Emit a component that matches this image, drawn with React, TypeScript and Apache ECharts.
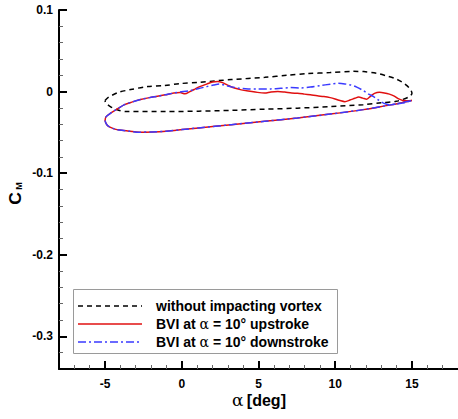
import React, { useEffect, useRef } from "react";
import * as echarts from "echarts";

// ---------- data ----------
// without impacting vortex: upper branch (left -> right)
const noVortexUpperAlpha = [-5.0, -4.81, -4.16, -3.33, -2.23, -1.14, -0.11, 1.11, 3.23, 5.42, 6.9, 8.19, 9.66, 11.2, 11.86, 12.7, 13.3, 13.96, 14.4, 14.8, 15.0];
const noVortexUpperCm = [-0.011, -0.0074, -0.0012, 0.0025, 0.0061, 0.0074, 0.0098, 0.0114, 0.0147, 0.0175, 0.02, 0.022, 0.0233, 0.0248, 0.0245, 0.0225, 0.0195, 0.0155, 0.011, 0.005, -0.002];
// without impacting vortex: lower branch (right -> left)
const noVortexLowerAlpha = [14.8, 13.97, 13.0, 11.83, 9.66, 7.54, 5.42, 3.23, 1.11, -1.03, -3.6, -4.25, -4.68, -4.95, -5.0];
const noVortexLowerCm = [-0.0065, -0.0119, -0.0138, -0.016, -0.0184, -0.0203, -0.0215, -0.023, -0.024, -0.0245, -0.0245, -0.022, -0.018, -0.014, -0.011];

// BVI at alpha = 10 upstroke
const upstrokeLowerAlpha = [-5.0, -4.87, -4.68, -4.36, -4.04, -3.39, -2.75, -1.91, -1.03, 0.02, 1.11, 3.23, 5.4, 7.54, 9.66, 11.83, 13.33, 13.97, 14.49, 15.0];
const upstrokeLowerCm = [-0.036, -0.041, -0.0436, -0.046, -0.0472, -0.0486, -0.0497, -0.0494, -0.0485, -0.0466, -0.0445, -0.0405, -0.0364, -0.0323, -0.0276, -0.0221, -0.0172, -0.0151, -0.0129, -0.011];
const upstrokeUpperAlpha = [-5.0, -4.94, -4.61, -4.17, -3.73, -3.26, -2.69, -2.11, -1.59, -1.08, -0.52, -0.11, 0.21, 0.53, 0.86, 1.17, 1.62, 2.01, 2.33, 2.65, 2.98, 3.43, 3.88, 4.33, 4.78, 5.4, 5.81, 6.26, 6.71, 7.16, 7.54, 7.99, 8.38, 8.83, 9.26, 9.67, 9.99, 10.31, 10.63, 10.96, 11.28, 11.53, 11.79, 12.05, 12.31, 12.56, 12.88, 13.2, 13.53, 13.85, 14.1, 14.4, 14.68, 15.0];
const upstrokeUpperCm = [-0.036, -0.031, -0.0261, -0.0209, -0.016, -0.0129, -0.0098, -0.0074, -0.0058, -0.004, -0.0018, -0.0012, -0.0027, 0.0, 0.0031, 0.0061, 0.0092, 0.0117, 0.0125, 0.011, 0.008, 0.0043, 0.0021, 0.0006, -0.0006, -0.0018, -0.0004, 0.0002, -0.0006, -0.0018, -0.0021, -0.0031, -0.004, -0.0052, -0.0061, -0.0074, -0.009, -0.011, -0.0123, -0.0104, -0.0082, -0.0067, -0.008, -0.0094, -0.0055, -0.0022, -0.0009, -0.0016, -0.0031, -0.0055, -0.0086, -0.0108, -0.0113, -0.011];

// BVI at alpha = 10 downstroke
const downstrokeLowerAlpha = [-5.0, -4.87, -4.68, -4.36, -4.04, -3.39, -2.75, -1.91, -1.03, 0.02, 1.11, 3.23, 5.4, 7.54, 9.66, 11.83, 13.33, 13.97, 14.49, 15.0];
const downstrokeLowerCm = [-0.036, -0.041, -0.0436, -0.046, -0.0472, -0.0486, -0.0497, -0.0494, -0.0485, -0.0466, -0.0445, -0.0405, -0.0364, -0.0323, -0.0276, -0.0221, -0.0172, -0.0151, -0.0129, -0.011];
const downstrokeUpperAlpha = [-5.0, -4.94, -4.61, -4.17, -3.73, -3.26, -2.69, -2.11, -1.59, -1.08, -0.52, -0.11, 0.53, 1.11, 1.62, 2.08, 2.46, 2.79, 3.23, 3.68, 4.33, 4.97, 5.81, 6.45, 7.1, 7.74, 8.38, 9.02, 9.67, 10.18, 10.63, 11.02, 11.4, 11.83, 12.18, 12.5, 12.82, 13.14, 13.53, 13.97, 14.37, 14.68, 15.0];
const downstrokeUpperCm = [-0.036, -0.031, -0.0261, -0.0209, -0.016, -0.0129, -0.0098, -0.0074, -0.0058, -0.004, -0.0018, -0.0006, 0.0012, 0.0037, 0.0061, 0.008, 0.0092, 0.008, 0.0058, 0.0043, 0.0033, 0.0031, 0.0033, 0.004, 0.0049, 0.0045, 0.0055, 0.0074, 0.009, 0.0101, 0.0094, 0.008, 0.0055, 0.0012, -0.0031, -0.0061, -0.0104, -0.0141, -0.016, -0.0153, -0.0141, -0.0126, -0.011];

// axis ticks
const xMajorTicks = [-5, 0, 5, 10, 15];
const xMajorLabels = ["-5", "0", "5", "10", "15"];
const xMinorTicks = [-7, -6, -4, -3, -2, -1, 1, 2, 3, 4, 6, 7, 8, 9, 11, 12, 13, 14, 16, 17];
const yMajorTicks = [-0.3, -0.2, -0.1, 0, 0.1];
const yMajorLabels = ["-0.3", "-0.2", "-0.1", "0", "0.1"];
const yMinorTicks = [-0.32, -0.28, -0.26, -0.24, -0.22, -0.18, -0.16, -0.14, -0.12, -0.08, -0.06, -0.04, -0.02, 0.02, 0.04, 0.06, 0.08];

const legendNames = ["without impacting vortex", "BVI at α = 10° upstroke", "BVI at α = 10° downstroke"];

function zip(a: number[], b: number[]) {
  const n = Math.min(a.length, b.length);
  const out: number[][] = [];
  for (let i = 0; i < n; i++) out.push([a[i], b[i]]);
  return out;
}
function rev(a: number[]) {
  return a.slice().reverse();
}

const FONT = "'Liberation Sans', Arial, Helvetica, sans-serif";
const SYM = "'DejaVu Serif', 'Liberation Serif', serif";

export default function App() {
  const ref = useRef<HTMLDivElement>(null);
  useEffect(() => {
    document.body.style.margin = "0";
    if (!ref.current) return;
    const chart = echarts.init(ref.current, null, { renderer: "svg" });

    const blackData = [...zip(noVortexUpperAlpha, noVortexUpperCm), ...zip(noVortexLowerAlpha, noVortexLowerCm)];
    const redData = [...zip(upstrokeLowerAlpha, upstrokeLowerCm), ...zip(rev(upstrokeUpperAlpha), rev(upstrokeUpperCm))];
    const blueData = [...zip(downstrokeLowerAlpha, downstrokeLowerCm), ...zip(rev(downstrokeUpperAlpha), rev(downstrokeUpperCm))];

    const labelStyle = { color: "#000", fontWeight: "bold" as const, fontSize: 12, fontFamily: FONT };

    const legendY = [306, 324, 342];
    const legendColors = ["#000000", "#e01010", "#3a3aff"];
    const legendDash: any[] = [[5, 4], "solid", [8, 3, 2, 3]];

    const legendGraphics: any[] = [
      { type: "rect", shape: { x: 73.5, y: 289.5, width: 264, height: 64 }, style: { fill: "#fff", stroke: "#9a9a9a", lineWidth: 1 } },
    ];
    legendNames.forEach((name, i) => {
      legendGraphics.push({
        type: "line",
        shape: { x1: 78, y1: legendY[i], x2: 142, y2: legendY[i] },
        style: { stroke: legendColors[i], lineWidth: 1.5, lineDash: legendDash[i] === "solid" ? null : legendDash[i] },
      });
      const parts = name.split("α");
      const text = parts.length > 1 ? `{b|${parts[0]}}{a|α}{b|${parts[1]}}` : `{b|${name}}`;
      legendGraphics.push({
        type: "text",
        x: 156,
        y: legendY[i],
        style: {
          text,
          align: "left",
          verticalAlign: "middle",
          rich: {
            b: { fontFamily: FONT, fontWeight: "bold", fontSize: 14, fill: "#000" },
            a: { fontFamily: SYM, fontWeight: "normal", fontSize: 14, fill: "#000" },
          },
        },
      });
    });

    const axisLineMain = { onZero: false, lineStyle: { color: "#000", width: 2 } };

    chart.setOption({
      animation: false,
      backgroundColor: "#fff",
      grid: { left: 59, top: 10, width: 404.3, height: 359, containLabel: false },
      xAxis: [
        {
          type: "value",
          min: -8,
          max: 18,
          position: "bottom",
          axisLine: axisLineMain,
          axisTick: { inside: true, length: 8, lineStyle: { color: "#000", width: 2 }, customValues: xMajorTicks },
          axisLabel: { ...labelStyle, margin: 9, customValues: xMajorTicks, formatter: (v: number) => xMajorLabels[xMajorTicks.indexOf(v)] ?? "" },
          splitLine: { show: false },
        },
        {
          type: "value",
          min: -8,
          max: 18,
          position: "bottom",
          axisLine: { show: false, onZero: false },
          axisTick: { inside: true, length: 4, lineStyle: { color: "#666", width: 1 }, customValues: xMinorTicks },
          axisLabel: { show: false },
          splitLine: { show: false },
        },
      ],
      yAxis: [
        {
          type: "value",
          min: -0.34,
          max: 0.1,
          position: "left",
          axisLine: { show: true, ...axisLineMain },
          axisTick: { show: true, inside: true, length: 8, lineStyle: { color: "#000", width: 2 }, customValues: yMajorTicks },
          axisLabel: { ...labelStyle, margin: 6, customValues: yMajorTicks, formatter: (v: number) => {
            const i = yMajorTicks.findIndex((t) => Math.abs(t - v) < 1e-9);
            return i >= 0 ? yMajorLabels[i] : "";
          } },
          splitLine: { show: false },
        },
        {
          type: "value",
          min: -0.34,
          max: 0.1,
          position: "left",
          axisLine: { show: false, onZero: false },
          axisTick: { show: true, inside: true, length: 4, lineStyle: { color: "#666", width: 1 }, customValues: yMinorTicks },
          axisLabel: { show: false },
          splitLine: { show: false },
        },
      ],
      series: [
        {
          name: legendNames[0],
          type: "line",
          data: blackData,
          showSymbol: false,
          symbol: "none",
          smooth: 0.3,
          lineStyle: { color: legendColors[0], width: 1.5, type: [5, 4] },
        },
        {
          name: legendNames[1],
          type: "line",
          data: redData,
          showSymbol: false,
          symbol: "none",
          smooth: 0.3,
          lineStyle: { color: legendColors[1], width: 1.5, type: "solid" },
        },
        {
          name: legendNames[2],
          type: "line",
          data: blueData,
          showSymbol: false,
          symbol: "none",
          smooth: 0.3,
          lineStyle: { color: legendColors[2], width: 1.5, type: [8, 3, 2, 3] },
        },
      ],
      graphic: [
        ...legendGraphics,
        {
          type: "text",
          x: 259,
          y: 400,
          style: {
            text: "{a|α} {b|[deg]}",
            align: "center",
            verticalAlign: "middle",
            rich: {
              a: { fontFamily: SYM, fontWeight: "normal", fontSize: 17, fill: "#000" },
              b: { fontFamily: FONT, fontWeight: "bold", fontSize: 16, fill: "#000" },
            },
          },
        },
        {
          type: "text",
          x: 15.5,
          y: 198.5,
          rotation: Math.PI / 2,
          scaleX: 1.1,
          style: { text: "C", align: "center", verticalAlign: "middle", fontFamily: FONT, fontWeight: "bold", fontSize: 16, fill: "#000" },
        },
        {
          type: "text",
          x: 19,
          y: 186,
          rotation: Math.PI / 2,
          style: { text: "M", align: "center", verticalAlign: "middle", fontFamily: FONT, fontWeight: "bold", fontSize: 9, fill: "#000" },
        },
      ],
    });
    return () => chart.dispose();
  }, []);
  return <div ref={ref} style={{ width: 458, height: 419 }} />;
}
